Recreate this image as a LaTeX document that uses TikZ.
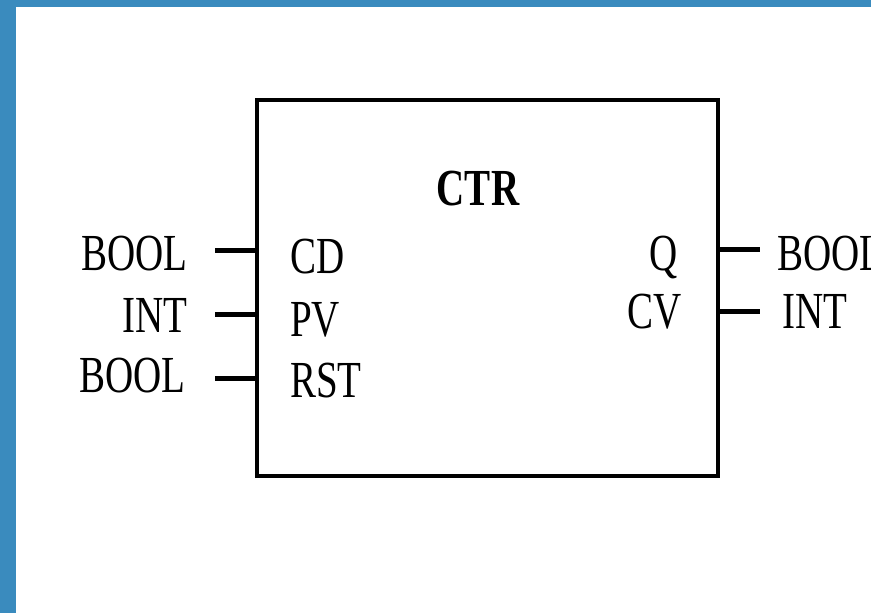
\documentclass[tikz,border=0pt]{standalone}
\usepackage{fontspec}
\usepackage{tikz}
\newfontfamily\plcfont[FakeStretch=0.75]{Liberation Serif}
\definecolor{frameblue}{HTML}{3A8BBE}

\begin{document}
\begin{tikzpicture}[x=1pt, y=-1pt,
  pinlabel/.style={inner sep=0pt, font=\plcfont\fontsize{52}{52}\selectfont},
  stub/.style={line width=5pt}]
  % frame
  \fill[frameblue] (0,0) rectangle (871,613);
  \fill[white] (16,7) rectangle (871,613);
  \clip (0,0) rectangle (871,613);
  % block
  \node[draw, line width=4.5pt, minimum width=461pt, minimum height=376pt, inner sep=0pt] (ctr) at (487.5,288) {};
  \node[pinlabel, font=\plcfont\bfseries\fontsize{52}{52}\selectfont, anchor=base] (title) at (478,205) {CTR};
  % inputs
  \node[pinlabel, anchor=base west] (cd) at (290,273) {CD};
  \node[pinlabel, anchor=base west] (pv) at (290,336) {PV};
  \node[pinlabel, anchor=base west] (rst) at (290,397) {RST};
  \node[pinlabel, anchor=base east] (cdtype) at (188,270) {BOOL};
  \node[pinlabel, anchor=base east] (pvtype) at (188,332) {INT};
  \node[pinlabel, anchor=base east] (rsttype) at (186,392) {BOOL};
  \coordinate (cdend) at (215,250);
  \coordinate (pvend) at (215,314);
  \coordinate (rstend) at (215,378);
  \draw[stub] (cdend) -- (cdend -| ctr.west);
  \draw[stub] (pvend) -- (pvend -| ctr.west);
  \draw[stub] (rstend) -- (rstend -| ctr.west);
  % outputs
  \node[pinlabel, anchor=base east] (q) at (678,270) {Q};
  \node[pinlabel, anchor=base east] (cv) at (682,328) {CV};
  \node[pinlabel, anchor=base west] (qtype) at (777,270) {BOOL};
  \node[pinlabel, anchor=base west] (cvtype) at (782,328) {INT};
  \coordinate (qend) at (760,249);
  \coordinate (cvend) at (760,311);
  \draw[stub] (qend -| ctr.east) -- (qend);
  \draw[stub] (cvend -| ctr.east) -- (cvend);
\end{tikzpicture}
\end{document}
